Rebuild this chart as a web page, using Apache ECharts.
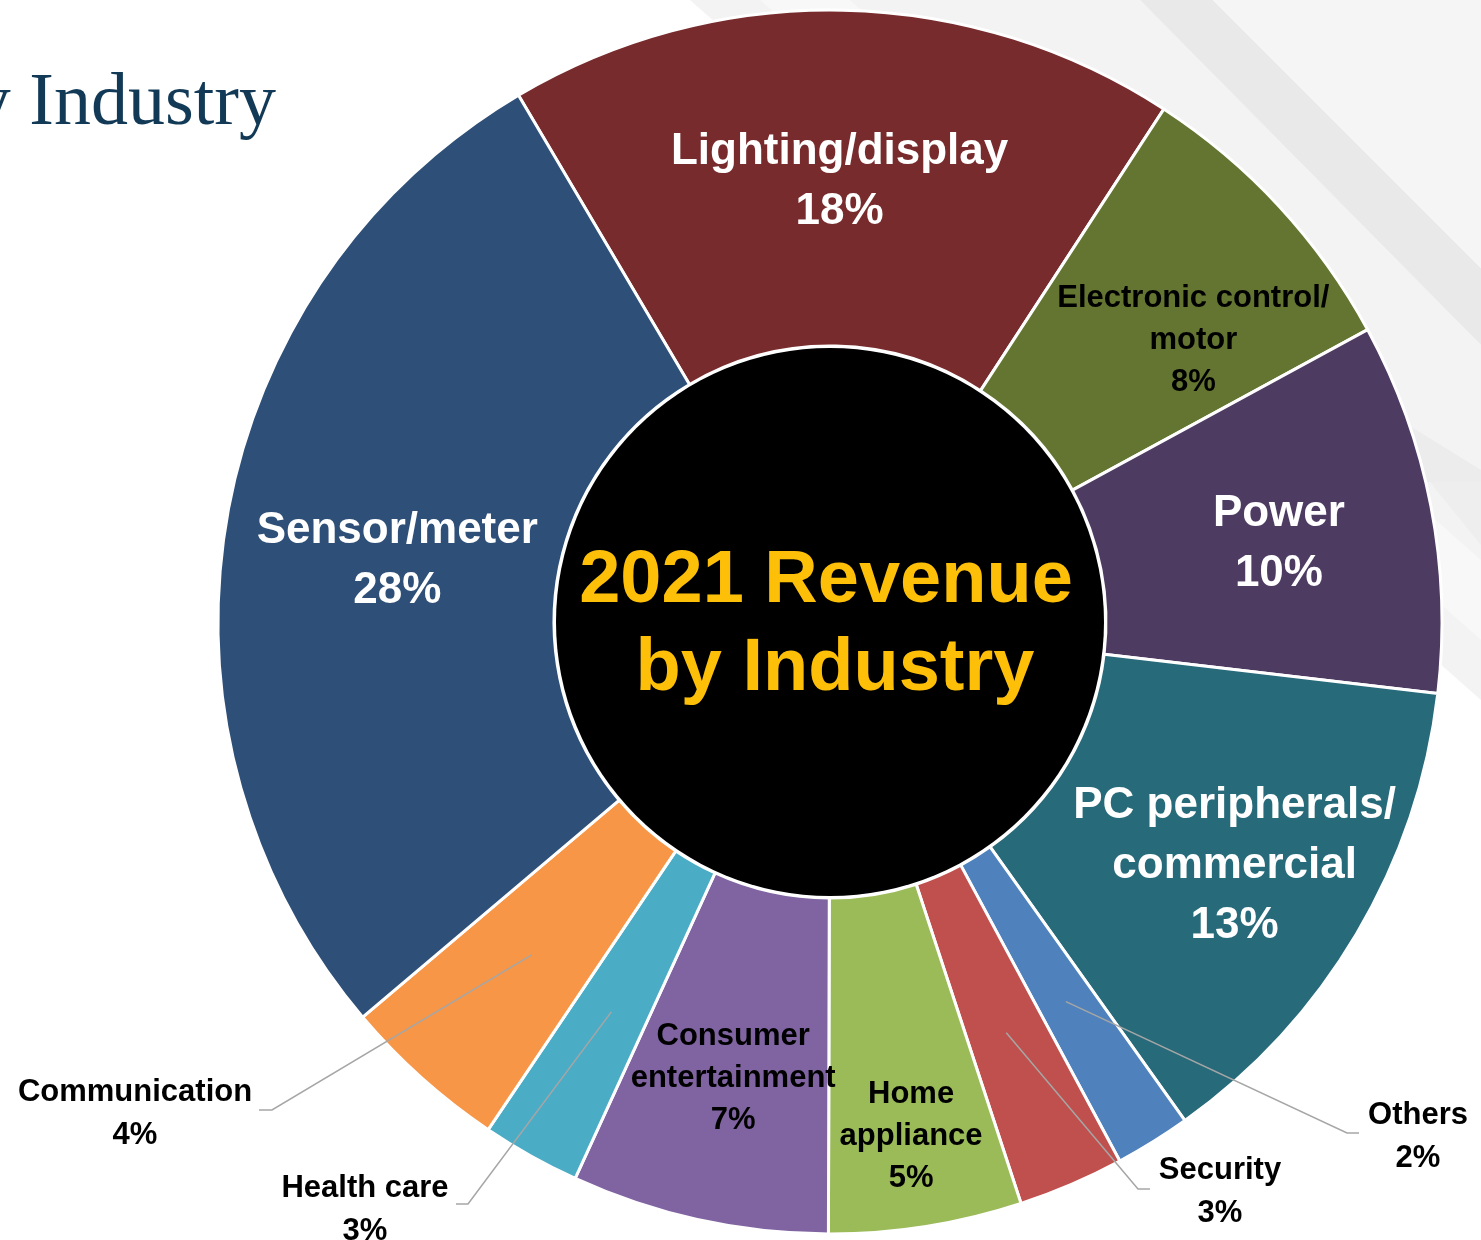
<!DOCTYPE html>
<html>
<head>
<meta charset="utf-8">
<script src="https://cdn.jsdelivr.net/npm/echarts@6/dist/echarts.min.js"></script>
<style>
  html, body { margin: 0; padding: 0; background: #ffffff; }
  #chart { width: 1481px; height: 1240px; }
</style>
</head>
<body>
<div id="chart"></div>
<script>
// ---- data (clockwise from the top) ----
const categories = [
  'Lighting/display',
  'Electronic control/\nmotor',
  'Power',
  'PC peripherals/\ncommercial',
  'Others',
  'Security',
  'Home\nappliance',
  'Consumer\nentertainment',
  'Health care',
  'Communication',
  'Sensor/meter'
];
const shares = [17.7, 7.9, 9.8, 13.3, 2.0, 2.8, 5.1, 6.8, 2.6, 4.4, 27.7];
const colors = ['#782b2c', '#637531', '#4d3b62', '#276a7a', '#4f81bd', '#c0504d',
                '#9bbb59', '#8064a2', '#4bacc6', '#f79646', '#2e4f77'];
const centerTitle = ['2021 Revenue', 'by Industry'];
const pageTitle = 'by Industry';

// ---- layout / styles ----
const CX = 830, CY = 622, R0 = 276, R1 = 612;
const LABEL_FONT = '"Liberation Sans Narrow", "Arial Narrow", "Liberation Sans", Arial, sans-serif';
const bigStyle = { fontSize: 44, lineHeight: 60, color: '#ffffff' };
const smallStyle = { fontSize: 31, lineHeight: 42, color: '#000000' };
const insideStyle = {
  'Lighting/display': bigStyle,
  'Electronic control/\nmotor': smallStyle,
  'Power': bigStyle,
  'PC peripherals/\ncommercial': bigStyle,
  'Home\nappliance': smallStyle,
  'Consumer\nentertainment': smallStyle,
  'Sensor/meter': bigStyle
};
const insideShift = {
  'Lighting/display': [0, 7],
  'Electronic control/\nmotor': [35, 22],
  'Power': [10, 6],
  'PC peripherals/\ncommercial': [20, 16],
  'Home\nappliance': [11, 73],
  'Consumer\nentertainment': [-1, 20],
  'Sensor/meter': [8, 13]
};
// outside labels: text centre, elbow and end of the leader
const outsideLabel = {
  'Others':        { x: 1418, y: 1137, elbow: [1347, 1133], end: [1359, 1133] },
  'Security':      { x: 1220, y: 1192, elbow: [1138, 1189], end: [1150, 1189] },
  'Health care':   { x: 365,  y: 1210, elbow: [468, 1204],  end: [456, 1204] },
  'Communication': { x: 135,  y: 1114, elbow: [272, 1110],  end: [259, 1110] }
};

const startAngle = 120.6;

const mainData = categories.map((name, i) => {
  const st = insideStyle[name];
  return {
    name: name,
    value: shares[i],
    itemStyle: { color: colors[i] },
    label: st ? {
      show: true, position: 'inside',
      fontFamily: LABEL_FONT, fontWeight: 'bold',
      fontSize: st.fontSize, lineHeight: st.lineHeight, color: st.color
    } : { show: false }
  };
});

const leaderData = categories.map((name, i) => ({
  name: name,
  value: shares[i],
  label: outsideLabel[name] ? { show: true } : { show: false },
  labelLine: { show: !!outsideLabel[name] }
}));

const TITLE_FONT = 'bold 74px "Liberation Sans", Arial, sans-serif';

const chart = echarts.init(document.getElementById('chart'), null, { renderer: 'canvas' });
chart.setOption({
  backgroundColor: '#ffffff',
  animation: false,
  graphic: [
    // decorative background stripes (top right)
    { type: 'polygon', z: -10, silent: true,
      shape: { points: [[690, 0], [1140, 0], [1481, 345], [1481, 700]] },
      style: { fill: '#f3f3f3' } },
    { type: 'polygon', z: -10, silent: true,
      shape: { points: [[760, 0], [850, 0], [1481, 560], [1481, 640]] },
      style: { fill: '#f8f8f8' } },
    { type: 'polygon', z: -10, silent: true,
      shape: { points: [[1140, 0], [1213, 0], [1481, 268], [1481, 345]] },
      style: { fill: '#e9e9e9' } },
    { type: 'polygon', z: -10, silent: true,
      shape: { points: [[1213, 0], [1481, 0], [1481, 268]] },
      style: { fill: '#f5f5f5' } },
    { type: 'polygon', z: -10, silent: true,
      shape: { points: [[1400, 420], [1481, 470], [1481, 482], [1420, 482]] },
      style: { fill: '#ececec' } },
    { type: 'polygon', z: -10, silent: true,
      shape: { points: [[1430, 482], [1481, 482], [1481, 545]] },
      style: { fill: '#eeeeee' } },
    // cut-off page title
    { type: 'text', z: 5, silent: true,
      x: 276, y: 105,
      style: { text: pageTitle, font: 'normal 74px "Liberation Serif", serif',
               fill: '#123a57', textAlign: 'right', textVerticalAlign: 'middle' } },
    // black centre disc
    { type: 'circle', z: 5, silent: true,
      shape: { cx: CX, cy: CY, r: R0 - 2 },
      style: { fill: '#000000' } },
    // centre title
    { type: 'text', z: 6, silent: true, x: CX - 4, y: 582,
      style: { text: centerTitle[0], font: TITLE_FONT,
               fill: '#fdbf08', textAlign: 'center', textVerticalAlign: 'middle' } },
    { type: 'text', z: 6, silent: true, x: CX + 5, y: 670,
      style: { text: centerTitle[1], font: TITLE_FONT,
               fill: '#fdbf08', textAlign: 'center', textVerticalAlign: 'middle' } }
  ],
  series: [
    {
      type: 'pie',
      center: [CX, CY],
      radius: [R0, R1],
      startAngle: startAngle,
      clockwise: true,
      avoidLabelOverlap: false,
      minShowLabelAngle: 0,
      silent: true,
      itemStyle: { borderColor: '#ffffff', borderWidth: 3 },
      label: {
        formatter: p => p.name + '\n' + Math.round(p.value) + '%'
      },
      labelLine: { show: false },
      labelLayout: function (p) {
        const s = insideShift[categories[p.dataIndex]];
        return s ? { dx: s[0], dy: s[1] } : {};
      },
      data: mainData
    },
    {
      // transparent guide series: anchors the leader lines inside the ring
      type: 'pie',
      center: [CX, CY],
      radius: [0, 447],
      startAngle: startAngle,
      clockwise: true,
      avoidLabelOverlap: false,
      minShowLabelAngle: 0,
      silent: true,
      z: 3,
      itemStyle: { color: 'rgba(0,0,0,0)', borderWidth: 0 },
      label: {
        position: 'outside',
        fontFamily: LABEL_FONT, fontWeight: 'bold',
        fontSize: 31, lineHeight: 43, color: '#000000',
        formatter: p => p.name + '\n' + Math.round(p.value) + '%'
      },
      labelLine: { length: 20, length2: 10, lineStyle: { color: '#a6a6a6', width: 1.5 } },
      labelLayout: function (p) {
        const o = outsideLabel[categories[p.dataIndex]];
        if (!o) return {};
        const start = p.labelLinePoints ? p.labelLinePoints[0] : o.elbow;
        return {
          x: o.x, y: o.y, align: 'center', verticalAlign: 'middle',
          labelLinePoints: [start, o.elbow, o.end]
        };
      },
      data: leaderData
    }
  ]
});
</script>
</body>
</html>
